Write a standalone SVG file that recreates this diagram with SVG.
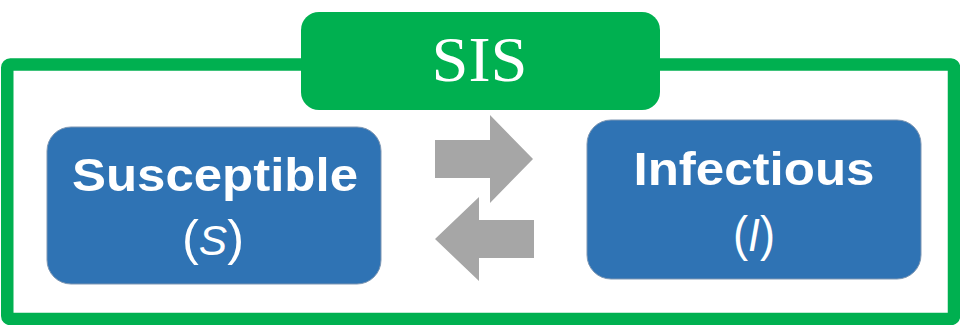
<svg xmlns="http://www.w3.org/2000/svg" width="960" height="325" viewBox="0 0 960 325">
  <style>
    .frame { fill: none; stroke: #00B050; stroke-width: 12.5; }
    .title-box { fill: #00B050; }
    .title { font-family: "Liberation Serif", "Times New Roman", serif; font-size: 64px; fill: #FFFFFF; text-anchor: middle; }
    .state { fill: #2F73B4; stroke: #7E97B3; stroke-width: 1; }
    .name { font-family: "Liberation Sans", Arial, sans-serif; font-weight: bold; font-size: 47px; fill: #FFFFFF; text-anchor: middle; }
    .sym { font-family: "Liberation Sans", Arial, sans-serif; font-size: 50px; fill: #FFFFFF; text-anchor: middle; }
    .flow { fill: #A6A6A6; }
  </style>

  <!-- outer model frame -->
  <rect class="frame" x="7.25" y="64.5" width="946.75" height="254.5" rx="3"/>

  <!-- model title tab -->
  <g id="title">
    <rect class="title-box" x="301" y="12" width="359" height="98" rx="18"/>
    <text class="title" x="479.5" y="81" textLength="96" lengthAdjust="spacingAndGlyphs">SIS</text>
  </g>

  <!-- compartment S -->
  <g id="susceptible">
    <rect class="state" x="47" y="127" width="334" height="157" rx="24"/>
    <text class="name" x="215" y="191" textLength="286" lengthAdjust="spacingAndGlyphs">Susceptible</text>
    <text class="sym" x="213" y="255" textLength="62" lengthAdjust="spacingAndGlyphs">(<tspan font-style="italic" font-size="42">S</tspan>)</text>
  </g>

  <!-- compartment I -->
  <g id="infectious">
    <rect class="state" x="587" y="120" width="334" height="159" rx="24"/>
    <text class="name" x="754" y="185" font-size="46.5" textLength="241" lengthAdjust="spacingAndGlyphs">Infectious</text>
    <text class="sym" x="754" y="251" textLength="42" lengthAdjust="spacingAndGlyphs">(<tspan font-style="italic" font-size="47">I</tspan>)</text>
  </g>

  <!-- transitions between compartments -->
  <g id="connectors">
    <polygon class="flow" points="435,140 490,140 490,115 533,159 490,203 490,178 435,178"/>
    <polygon class="flow" points="534,220 479,220 479,197 435,239 479,281 479,258 534,258"/>
  </g>
</svg>
